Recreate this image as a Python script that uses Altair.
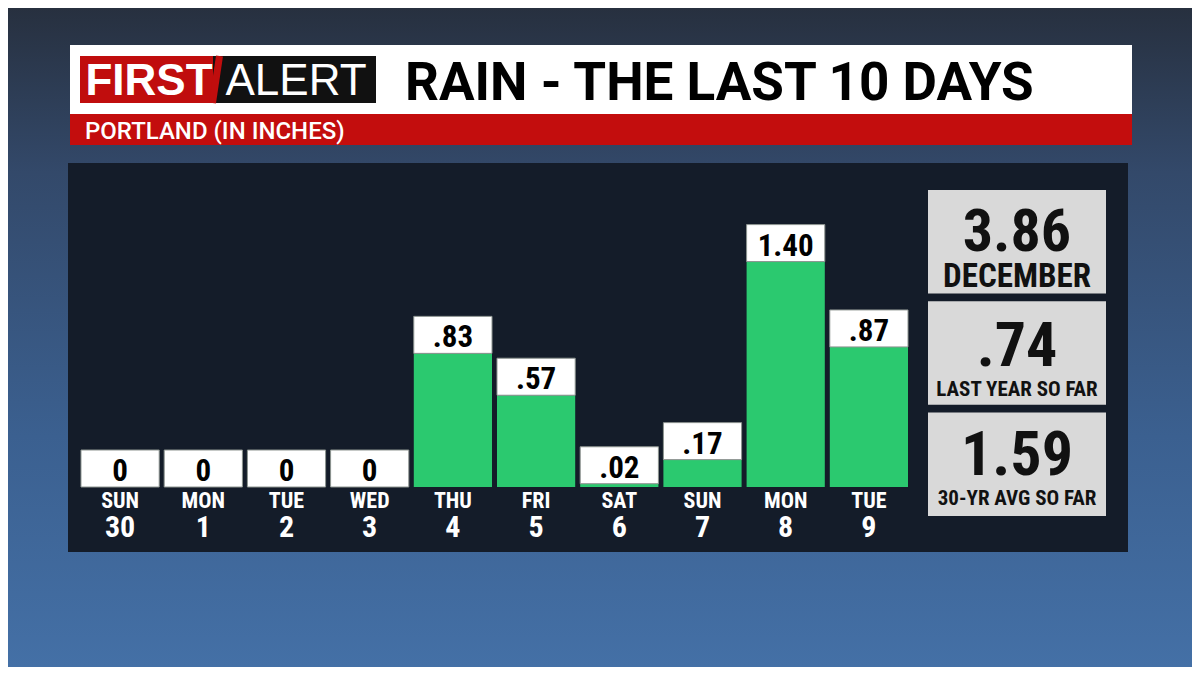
import altair as alt
import pandas as pd

# ---------------- data ----------------
days = ["SUN", "MON", "TUE", "WED", "THU", "FRI", "SAT", "SUN", "MON", "TUE"]
dates = ["30", "1", "2", "3", "4", "5", "6", "7", "8", "9"]
rain = [0, 0, 0, 0, 0.83, 0.57, 0.02, 0.17, 1.40, 0.87]
rain_labels = ["0", "0", "0", "0", ".83", ".57", ".02", ".17", "1.40", ".87"]

stat_values = ["3.86", ".74", "1.59"]
stat_labels = ["DECEMBER", "LAST YEAR SO FAR", "30-YR AVG SO FAR"]

title_text = "RAIN - THE LAST 10 DAYS"
subtitle_text = "PORTLAND (IN INCHES)"
logo_left = "FIRST"
logo_right = "ALERT"

# ---------------- tables ----------------
keys = [f"d{i}" for i in range(len(days))]
df = pd.DataFrame({"key": keys, "day": days, "date": dates,
                   "rain": rain, "label": rain_labels})
sdf = pd.DataFrame({"stat": stat_labels, "value": stat_values})
one = alt.Data(values=[{"k": 1}])

COND = "Roboto Condensed, Liberation Sans Narrow, DejaVu Sans Condensed, sans-serif"
ROBO = "Roboto, Liberation Sans, sans-serif"
SANS = "Liberation Sans, Arial, sans-serif"

W, H = 1184, 659

xscale = alt.Scale(domain=keys, range=[70.5, 902.5], paddingInner=0.06, paddingOuter=0.03)
yscale = alt.Scale(domain=[0, 1.5], range=[479, 479 - 241.5], nice=False, zero=False)
sscale = alt.Scale(domain=stat_labels, range=[182, 508], paddingInner=0.07, paddingOuter=0)

X = alt.X("key:N", scale=xscale, axis=None)


def box(x1, x2, y1, y2, color, **kw):
    return alt.Chart(one).mark_rect(color=color, **kw).encode(
        x=alt.value(x1), x2=alt.value(x2), y=alt.value(y1), y2=alt.value(y2))


def label(text, x, y, size, color, font, weight="bold", align="left"):
    return alt.Chart(one).mark_text(
        text=text, fontSize=size, color=color, font=font, fontWeight=weight,
        align=align, baseline="alphabetic").encode(x=alt.value(x), y=alt.value(y))


gradient = {
    "gradient": "linear", "x1": 0, "y1": 0, "x2": 0, "y2": 1,
    "stops": [
        {"offset": 0.0, "color": "#27303f"},
        {"offset": 0.25, "color": "#33496a"},
        {"offset": 0.65, "color": "#3b6090"},
        {"offset": 1.0, "color": "#4470a6"},
    ],
}

background = box(0, W, 0, H, gradient)
header = box(62, 1124, 37, 106, "#ffffff")
strip = box(62, 1124, 106, 137, "#c30d0d")
logo_red = box(72, 205, 48, 95, "#c00d0d")
logo_black = box(205, 368, 48, 95, "#111111")
slant = alt.Chart(one).mark_rule(color="#c00d0d", strokeWidth=7, strokeCap="butt").encode(
    x=alt.value(211.5), y=alt.value(48), x2=alt.value(204.5), y2=alt.value(95))
first_txt = label(logo_left, 141, 87, 44, "#ffffff", SANS, "bold", "center")
alert_txt = label(logo_right, 288, 87, 44, "#ffffff", SANS, "normal", "center")
title = label(title_text, 397, 92, 53, "#000000", ROBO)
subtitle = label(subtitle_text, 77, 131, 24, "#ffffff", ROBO, 500)
panel = box(60, 1120, 155, 544, "#141c29")

base = alt.Chart(df)
green = base.mark_bar(color="#2bc96f").encode(
    x=X, y=alt.Y("rain:Q", scale=yscale, axis=None))
white = base.mark_rect(color="#ffffff", stroke="#8d9490", strokeWidth=1, y2Offset=-37).encode(
    x=X, y=alt.Y("rain:Q", scale=yscale, axis=None), y2="rain:Q")
values = base.mark_text(font=COND, fontWeight="bold", fontSize=31, color="#000000",
                        baseline="alphabetic", dy=-6).encode(
    x=X, y=alt.Y("rain:Q", scale=yscale, axis=None), text="label:N")
day_txt = base.mark_text(font=COND, fontWeight="bold", fontSize=22, color="#ffffff",
                         baseline="alphabetic").encode(x=X, y=alt.value(500), text="day:N")
date_txt = base.mark_text(font=COND, fontWeight="bold", fontSize=30, color="#ffffff",
                          baseline="alphabetic").encode(x=X, y=alt.value(529), text="date:N")

S = alt.Y("stat:N", scale=sscale, axis=None)
sbase = alt.Chart(sdf)
sbox = sbase.mark_rect(color="#d9d9d9").encode(x=alt.value(920), x2=alt.value(1098), y=S)
sval_first = sbase.transform_filter(alt.datum.stat == stat_labels[0]).mark_text(
    font=COND, fontWeight="bold", fontSize=60, color="#111111",
    baseline="alphabetic", dy=7).encode(x=alt.value(1009), y=S, text="value:N")
sval_rest = sbase.transform_filter(alt.datum.stat != stat_labels[0]).mark_text(
    font=COND, fontWeight="bold", fontSize=62, color="#111111",
    baseline="alphabetic", dy=13).encode(x=alt.value(1009), y=S, text="value:N")
slab = sbase.mark_text(font=COND, fontWeight="bold", color="#111111",
                       baseline="alphabetic", dy=43).encode(
    x=alt.value(1009), y=S, text="stat:N",
    size=alt.condition(alt.datum.stat == stat_labels[0], alt.value(33), alt.value(21)))

chart = alt.layer(
    background, header, strip, logo_red, logo_black, slant, first_txt, alert_txt,
    title, subtitle, panel, green, white, values, day_txt, date_txt,
    sbox, sval_first, sval_rest, slab,
).resolve_scale(y="independent").properties(
    width=W, height=H, padding=0, autosize=alt.AutoSizeParams(type="none"),
    background="#2f4564",
).configure_view(stroke=None)

chart.save("out.html", embed_options={"renderer": "svg", "actions": False})
